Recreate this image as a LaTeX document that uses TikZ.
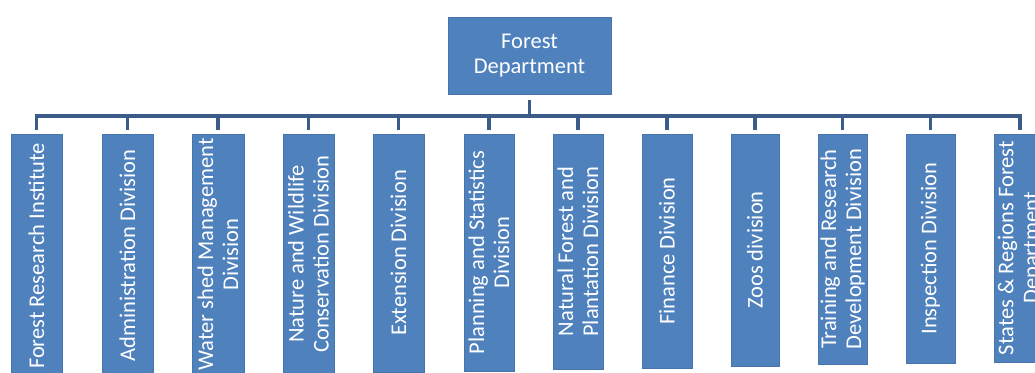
\documentclass[tikz,border=0pt]{standalone}
\usepackage{fontspec}
\setmainfont{Carlito}
\definecolor{boxblue}{HTML}{4F81BD}
\definecolor{boxedge}{HTML}{4674AC}
\definecolor{linkblue}{HTML}{3B5B89}
\begin{document}
\begin{tikzpicture}[x=1pt,y=-1pt,
  unit/.style={fill=boxblue, draw=boxedge, line width=0.8pt, text=white,
    font=\fontsize{22.5}{25}\selectfont, align=center, inner sep=0pt},
  link/.style={draw=linkblue, line width=3.5pt}]
\useasboundingbox (0,0) rectangle (1035,372);
\clip (0,0) rectangle (1035,372);

% head of the department
\node[unit, minimum width=163pt, minimum height=77pt] (root) at (529.5,55.5)
  {Forest\\Department};
\coordinate (bus) at (529.5,116);

% divisions: name / left / right / bottom / label (boxes stand upright, text runs upwards)
\foreach \n/\xa/\xb/\yb/\t in {
  b1/11/62/378/{Forest Research Institute},
  b2/102/153/377/{Administration Division},
  b3/192/244/375/{Water shed Management\\Division},
  b4/283/334/374/{Nature and Wildlife\\Conservation Division},
  b5/373/424/372/{Extension Division},
  b6/464/514/371/{Planning and Statistics\\Division},
  b7/553/603/369/{Natural Forest and\\Plantation Division},
  b8/642/692/368/{Finance Division},
  b9/731/779/366/{Zoos division},
  b10/818/867/364/{Training and Research\\Development Division},
  b11/906/955/363/{Inspection Division},
  b12/994/1046/362/{States \& Regions Forest\\Department}} {
  \pgfmathsetmacro{\cx}{(\xa+\xb)/2}
  \pgfmathsetmacro{\cy}{(134+\yb)/2}
  \pgfmathsetmacro{\len}{\yb-134}
  \pgfmathsetmacro{\wid}{\xb-\xa}
  \node[unit, rotate=90, minimum width=\len pt, minimum height=\wid pt]
    (\n) at (\cx,\cy) {\t};
}

% reporting lines: stem from the head down to the bus, then a drop to every division
\draw[link, shorten <=6pt] (root.south) -- (bus);
\foreach \n in {b1,b2,b3,b4,b5,b6,b7,b8,b9,b10,b11,b12}
  \draw[link, shorten >=3.5pt] (bus) -| (\n.east);
\end{tikzpicture}
\end{document}
